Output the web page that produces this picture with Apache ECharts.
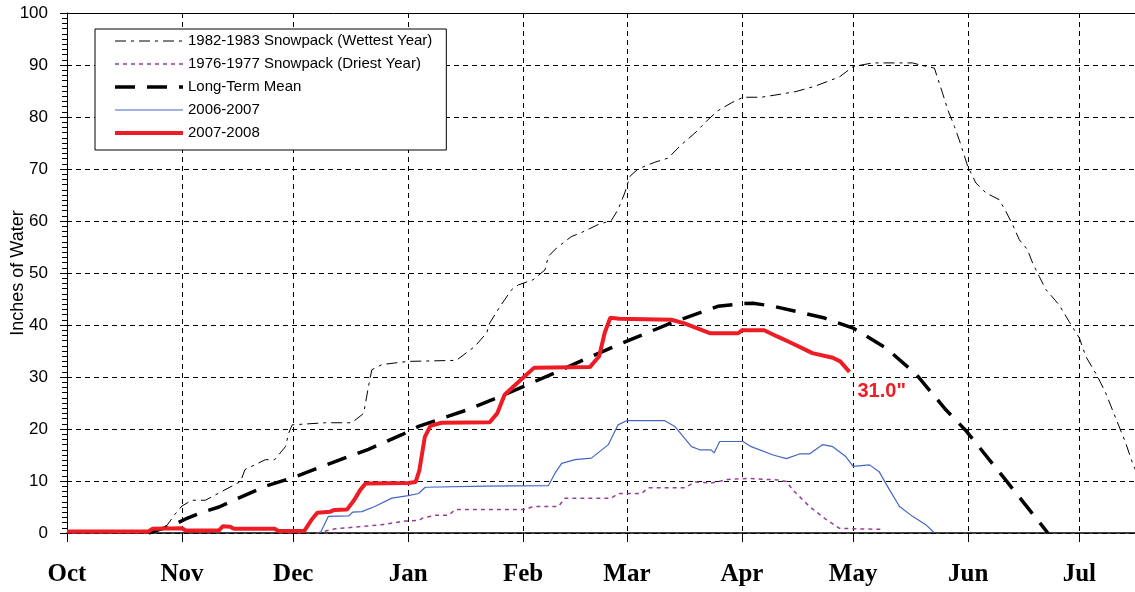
<!DOCTYPE html>
<html>
<head>
<meta charset="utf-8">
<script src="https://cdn.jsdelivr.net/npm/echarts@6/dist/echarts.min.js"></script>
<style>
  html, body { margin: 0; padding: 0; background: #fff; }
  #chart { width: 1135px; height: 592px; }
</style>
</head>
<body>
<div id="chart"></div>
<script>
// x = days since Oct 1
const monthNames = ['Oct', 'Nov', 'Dec', 'Jan', 'Feb', 'Mar', 'Apr', 'May', 'Jun', 'Jul'];
const monthDays = [0, 31, 61, 92, 123, 151, 182, 212, 243, 273];

// 1982-1983 Snowpack (Wettest Year)
const wetDays = [20, 25, 27, 29, 31, 33.7, 37.3, 41, 46.8, 48, 53.5, 56, 58.9, 59.8, 60.7, 69.7, 76.8, 80, 81.3, 82.2, 85, 92, 105, 110, 113.2, 114, 116.8, 119.9, 121.7, 125.7, 128.9, 129.8, 132, 136, 138.8, 143.2, 146.8, 148.6, 150.4, 151.8, 154, 158.5, 162.1, 165.7, 169.3, 172.9, 175.5, 179.1, 182.3, 187.2, 191.7, 196.6, 201.6, 208.3, 212, 217.3, 228, 230.7, 233.9, 236.1, 237.5, 239.3, 240.6, 242.9, 245.1, 247.8, 251.4, 253.2, 255, 256.8, 259, 260.4, 262.2, 264, 267.5, 270.2, 273, 274.7, 277.9, 280.1, 282.8, 285.5, 287.3, 290];
const wetVals = [0, 0.8, 1.5, 3.5, 5.2, 6.3, 6.3, 7.7, 9.9, 12.2, 14.1, 14.1, 16.6, 19.2, 20.8, 21.2, 21.2, 23, 28.2, 31.4, 32.4, 33, 33.2, 35.9, 38.5, 40.4, 43.6, 46.8, 47.7, 48.7, 50.6, 53.2, 54.8, 57, 57.8, 59.3, 60.1, 62.2, 65.4, 68.6, 70, 71.3, 72.1, 74.7, 76.9, 79.5, 81.2, 82.7, 83.8, 83.8, 84.3, 84.9, 85.9, 87.7, 89.7, 90.4, 90.4, 89.9, 89.4, 84.6, 81.4, 78.2, 75.6, 70.5, 67.3, 65.4, 64.1, 61.8, 59.3, 56.4, 54.5, 51.9, 49.3, 46.8, 43.9, 40.7, 37.5, 34, 30.1, 26.9, 22.1, 17.3, 13.5, 9];

// 1976-1977 Snowpack (Driest Year)
const dryDays = [67.4, 72.3, 78.6, 85, 91.2, 94.8, 96, 99.3, 102.9, 104.7, 123.5, 125.7, 132.5, 134.3, 146.8, 148.6, 155, 156.7, 166.6, 169.3, 173.7, 178.2, 183.6, 191.7, 194, 195.7, 200.2, 204.7, 208.3, 212.8, 220];
const dryVals = [0, 0.8, 1.2, 1.6, 2.3, 2.4, 2.9, 3.4, 3.4, 4.5, 4.5, 5.1, 5.1, 6.7, 6.7, 7.6, 7.6, 8.7, 8.7, 9.8, 9.6, 10.3, 10.5, 10.2, 9.9, 8.3, 5.1, 2.6, 0.9, 0.8, 0.7];

// Long-Term Mean
const meanDays = [22, 25, 28, 30, 32, 36.5, 41, 45, 53.5, 60.7, 71.4, 81.3, 90.3, 94.8, 108, 117, 132.5, 141.5, 152, 163, 175.5, 182, 185, 190.5, 204, 212, 221, 229, 237, 242.5, 253, 264.5];
const meanVals = [0, 0.7, 1.3, 2.0, 2.7, 4.0, 5.0, 6.3, 9.0, 10.6, 13.5, 16.1, 18.9, 20.5, 23.7, 26.3, 31.1, 34, 37.2, 40.4, 43.6, 44.1, 44.2, 43.6, 41.4, 39.4, 35.5, 30.5, 23.7, 19.6, 10.3, 0];

// 2006-2007
const y0607Days = [68.3, 70.5, 76, 77, 79.5, 83, 87.6, 92, 94.8, 96.6, 112.7, 129.8, 131.6, 133.4, 137, 141.4, 146, 148.6, 150.9, 161.2, 163.9, 168.4, 170.6, 173.7, 174.5, 176, 182.3, 184.5, 190.4, 194, 197.5, 200.2, 203.8, 206.5, 210, 212, 216.4, 219, 221.8, 224.5, 228, 231.6, 233.9];
const y0607Vals = [0, 3.2, 3.3, 4.0, 4.1, 5.1, 6.7, 7.2, 7.6, 8.8, 9.0, 9.1, 11.5, 13.4, 14.1, 14.4, 17, 20.8, 21.6, 21.6, 20.5, 16.6, 16, 16, 15.4, 17.6, 17.6, 16.6, 15, 14.3, 15.2, 15.2, 17, 16.6, 14.7, 12.8, 13.1, 11.8, 8.3, 5.1, 3.2, 1.6, 0];

// 2007-2008
const y0708Days = [0, 22, 23, 31, 32, 41, 42, 44, 45, 56, 57, 64, 66, 67.5, 71, 72, 75.5, 77.5, 79, 80.5, 92, 94, 95, 96.5, 98, 101, 114, 116, 118, 121.5, 126, 141, 143.5, 145, 146.5, 149, 163, 166.5, 173.5, 181, 182, 188, 191.5, 195.5, 201, 206.5, 208.5, 211];
const y0708Vals = [0.3, 0.3, 0.8, 0.9, 0.5, 0.5, 1.3, 1.2, 0.8, 0.8, 0.4, 0.4, 2.6, 3.9, 4.1, 4.4, 4.5, 6.4, 8.2, 9.5, 9.6, 9.8, 12, 18.5, 20.6, 21.2, 21.3, 23, 26.6, 28.9, 31.8, 31.9, 34, 38.5, 41.4, 41.2, 41.0, 40.3, 38.4, 38.4, 39, 39, 37.8, 36.5, 34.6, 33.7, 33, 31.0];

const zip = (xs, ys) => xs.map((x, i) => [x, ys[i]]);

const chart = echarts.init(document.getElementById('chart'));
const sans = 'Liberation Sans';

const wetStyle = { color: '#000', width: 1, type: [11, 5, 3, 5] };
const dryStyle = { color: '#943f97', width: 1.5, type: [4, 4] };
const meanStyle = { color: '#000', width: 3.5, type: [20, 12] };
const blueStyle = { color: '#4466c4', width: 1.2 };
const redStyle = { color: '#ee1c24', width: 4 };

chart.setOption({
  animation: false,
  backgroundColor: '#fff',
  grid: { left: 67, right: 0, top: 13, bottom: 59, outerBoundsMode: 'none', containLabel: false },
  legend: {
    left: 95,
    top: 29,
    orient: 'vertical',
    backgroundColor: '#fff',
    borderColor: '#000',
    borderWidth: 1,
    borderRadius: 0,
    padding: [4, 14, 9, 18],
    itemWidth: 68,
    itemHeight: 16,
    itemGap: 7,
    itemStyle: { color: 'transparent', borderWidth: 0, opacity: 0 },
    textStyle: { fontFamily: sans, fontSize: 15, color: '#000', lineHeight: 16 },
    data: [
      { name: '1982-1983 Snowpack (Wettest Year)', lineStyle: wetStyle },
      { name: '1976-1977 Snowpack (Driest Year)', lineStyle: dryStyle },
      { name: 'Long-Term Mean', lineStyle: meanStyle },
      { name: '2006-2007', lineStyle: blueStyle },
      { name: '2007-2008', lineStyle: redStyle }
    ]
  },
  xAxis: [
    {
      type: 'value',
      min: 0,
      max: 288,
      axisLine: { show: true, onZero: false, lineStyle: { color: '#000', width: 1.5 } },
      axisTick: { show: true, customValues: monthDays, length: 9, lineStyle: { color: '#000', width: 1 } },
      axisLabel: {
        customValues: monthDays,
        formatter: v => monthNames[monthDays.indexOf(Math.round(v))] || '',
        fontFamily: 'Liberation Serif',
        fontWeight: 'bold',
        fontSize: 25,
        color: '#000',
        margin: 29
      },
      splitLine: { show: true, lineStyle: { color: '#000', type: [5, 4], width: 1 } }
    },
    {
      type: 'value',
      position: 'top',
      min: 0,
      max: 288,
      axisLine: { show: true, onZero: false, lineStyle: { color: '#000', width: 1 } },
      axisTick: { show: false },
      axisLabel: { show: false },
      splitLine: { show: false }
    }
  ],
  yAxis: [
    {
      type: 'value',
      min: 0,
      max: 100,
      interval: 10,
      name: 'Inches of Water',
      nameLocation: 'middle',
      nameGap: 40,
      nameMoveOverlap: false,
      nameTextStyle: { fontFamily: sans, fontSize: 18, color: '#000' },
      axisLine: { show: true, lineStyle: { color: '#000', width: 1 } },
      axisTick: { show: true, length: 7, lineStyle: { color: '#000' } },
      axisLabel: { fontFamily: sans, fontSize: 17, color: '#000', margin: 19 },
      splitLine: { show: true, lineStyle: { color: '#000', type: [5, 4], width: 1 } }
    },
    {
      type: 'value',
      min: 0,
      max: 100,
      interval: 10,
      axisLine: { show: false },
      axisTick: { show: false, inside: true },
      minorTick: { show: true, splitNumber: 10, length: 5, lineStyle: { color: '#000', width: 1 } },
      axisLabel: { show: false },
      splitLine: { show: false }
    }
  ],
  series: [
    {
      name: '1982-1983 Snowpack (Wettest Year)',
      type: 'line',
      symbol: 'none',
      data: zip(wetDays, wetVals),
      lineStyle: wetStyle,
      itemStyle: { color: '#000' }
    },
    {
      name: '1976-1977 Snowpack (Driest Year)',
      type: 'line',
      symbol: 'none',
      data: zip(dryDays, dryVals),
      lineStyle: dryStyle,
      itemStyle: { color: '#943f97' }
    },
    {
      name: '2006-2007',
      type: 'line',
      symbol: 'none',
      data: zip(y0607Days, y0607Vals),
      lineStyle: blueStyle,
      itemStyle: { color: '#4466c4' }
    },
    {
      name: 'Long-Term Mean',
      type: 'line',
      symbol: 'none',
      data: zip(meanDays, meanVals),
      lineStyle: meanStyle,
      itemStyle: { color: '#000' }
    },
    {
      name: '2007-2008',
      type: 'line',
      symbol: 'none',
      data: zip(y0708Days, y0708Vals),
      lineStyle: redStyle,
      itemStyle: { color: '#ee1c24' },
      endLabel: {
        show: true,
        formatter: p => p.value[1].toFixed(1) + '"',
        color: '#ee1c24',
        fontFamily: sans,
        fontWeight: 'bold',
        fontSize: 20,
        offset: [0, 20]
      }
    }
  ]
});
</script>
</body>
</html>
